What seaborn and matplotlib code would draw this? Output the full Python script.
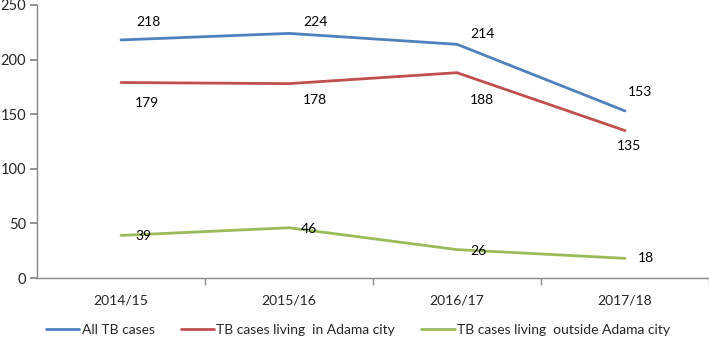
import numpy as np
import matplotlib
matplotlib.use("Agg")
import matplotlib.pyplot as plt
import seaborn as sns
import pandas as pd

# data
years = ["2014/15", "2015/16", "2016/17", "2017/18"]
all_tb = [218, 224, 214, 153]
in_city = [179, 178, 188, 135]
outside_city = [39, 46, 26, 18]
series_names = ["All TB cases", "TB cases living  in Adama city", "TB cases living  outside Adama city"]

colors = ["#4F81BD", "#C0504D", "#9BBB59"]

# label offsets in pixels (dx, dy) relative to each point
label_offsets = [
    [(27, 18), (26, 11), (25, 10), (15, 19)],
    [(26, -20), (26, -16), (25, -27), (4, -15)],
    [(22, -1), (20, -1), (21, -1), (21, 0)],
]

sns.set_theme(style="white")
plt.rcParams["font.family"] = ["Lato", "DejaVu Sans"]

df = pd.DataFrame({
    "year": years * 3,
    "x": list(range(len(years))) * 3,
    "cases": all_tb + in_city + outside_city,
    "series": sum([[s] * len(years) for s in series_names], []),
})

fig = plt.figure(figsize=(7.09, 3.39), dpi=100)
ax = fig.add_axes([37 / 709, (339 - 278) / 339, (709 - 37) / 709, (278 - 5) / 339])

sns.lineplot(data=df, x="x", y="cases", hue="series", hue_order=series_names,
             palette=colors, linewidth=2, ax=ax, sort=False)

for vals, offs, c in zip([all_tb, in_city, outside_city], label_offsets, colors):
    for i, v in enumerate(vals):
        ax.annotate(str(v), (i, v), xytext=offs[i], textcoords="offset pixels",
                    ha="center", va="center", fontsize=10, color="black")

ax.set_xlim(-0.5, 3.5)
ax.set_ylim(0, 250)
ax.set_yticks([0, 50, 100, 150, 200, 250])
ax.set_xticks(range(len(years)))
ax.set_xticklabels(years)
ax.set_xticks([0.5, 1.5, 2.5, 3.5], minor=True)
ax.tick_params(axis="x", which="major", length=0, pad=12, labelsize=10)
ax.tick_params(axis="x", which="minor", length=5, color="#868686", direction="out", bottom=True)
ax.tick_params(axis="y", length=5, color="#868686", direction="out", left=True, labelsize=10.5, pad=3)
ax.set_xlabel("")
ax.set_ylabel("")

for side in ["top", "right"]:
    ax.spines[side].set_visible(False)
for side in ["left", "bottom"]:
    ax.spines[side].set_color("#868686")
    ax.spines[side].set_linewidth(1)

handles, labels = ax.get_legend_handles_labels()
ax.legend_.remove()
fig.legend(handles, labels, loc="center", bbox_to_anchor=(358 / 709, 1 - 330 / 339),
           ncol=3, frameon=False, fontsize=10, handlelength=2.4, handletextpad=0.15,
           columnspacing=1.9)

fig.savefig("out.png", dpi=100)
